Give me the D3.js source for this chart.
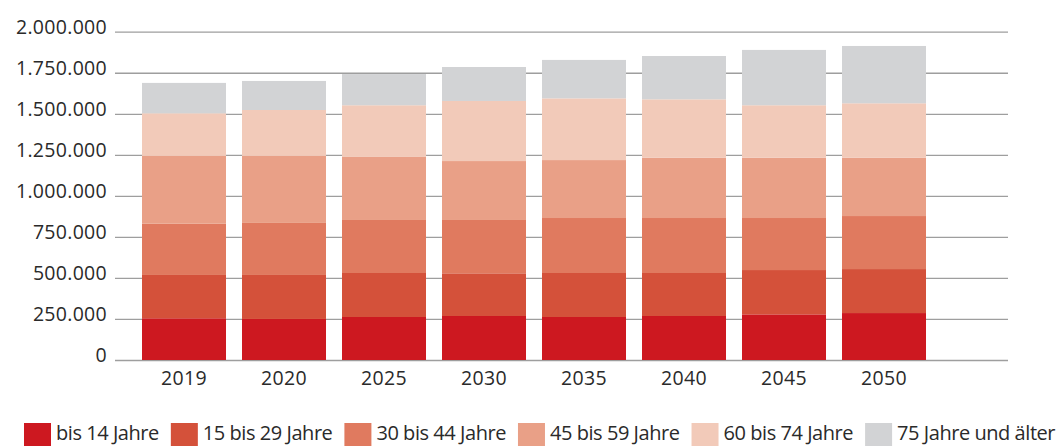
<!DOCTYPE html>
<html><head><meta charset="utf-8">
<script src="https://cdn.jsdelivr.net/npm/d3@7"></script>
<style>
html,body{margin:0;padding:0;background:#fff;}
svg{display:block;}
text{font-family:"Open Sans","Noto Sans",sans-serif;fill:#2a2a2a;}
</style></head>
<body><svg id="c" width="1063" height="446"></svg>
<script>
const years = ["2019","2020","2025","2030","2035","2040","2045","2050"];
const seriesNames = ["bis 14 Jahre","15 bis 29 Jahre","30 bis 44 Jahre","45 bis 59 Jahre","60 bis 74 Jahre","75 Jahre und älter"];
const bis14   = [254000, 250000, 262000, 268000, 262000, 268000, 278000, 286000];
const age15_29 = [264000, 268000, 268000, 260000, 268000, 262000, 270000, 268000];
const age30_44 = [312000, 317000, 323000, 325000, 335000, 335000, 317000, 323000];
const age45_59 = [413000, 408000, 384000, 359000, 353000, 368000, 368000, 356000];
const age60_74 = [260000, 280000, 315000, 366000, 376000, 355000, 319000, 331000];
const age75plus = [185000, 177000, 190000, 207000, 234000, 264000, 337000, 349000];
const yTicks = [0, 250000, 500000, 750000, 1000000, 1250000, 1500000, 1750000, 2000000];
const colors = ["#CD1820","#D4513A","#E07A5F","#E9A087","#F2CAB9","#D2D3D5"];

const seriesValues = [bis14, age15_29, age30_44, age45_59, age60_74, age75plus];
const rows = years.map((y,i)=>{
  const r = {year:y};
  seriesNames.forEach((s,j)=> r[s] = seriesValues[j][i]);
  return r;
});

const svg = d3.select("#c");
const x = d3.scaleBand().domain(years).range([134, 934]).paddingInner(0.16).paddingOuter(0.08);
const y = d3.scaleLinear().domain([0, 2000000]).range([360, 31.7]);
const fmt = v => v===0 ? "0" : d3.format(",")(v).replace(/,/g, ".");

// grid
const yAxis = d3.axisLeft(y).tickValues(yTicks).tickSize(-(1008-115)).tickFormat(fmt).tickPadding(8);
const ga = svg.append("g").attr("transform","translate(115,0)").call(yAxis);
ga.select(".domain").remove();
ga.selectAll(".tick line").attr("stroke","#9e9e9e").attr("stroke-width",1.3);
ga.selectAll(".tick text").attr("font-size","19.5px").attr("letter-spacing","0.3px")
  .attr("fill","#2a2a2a").attr("dy","0.1em").attr("font-family",'"Open Sans","Noto Sans",sans-serif');

// bars
const stack = d3.stack().keys(seriesNames)(rows);
svg.append("g").selectAll("g").data(stack).join("g")
  .attr("fill",(d,i)=>colors[i])
  .selectAll("rect").data(d=>d).join("rect")
  .attr("x", d=>x(d.data.year))
  .attr("width", x.bandwidth())
  .attr("y", d=>y(d[1]))
  .attr("height", d=>y(d[0])-y(d[1]));

// x axis labels
const xa = svg.append("g").attr("transform","translate(0,360)").call(d3.axisBottom(x).tickSize(0).tickPadding(11));
xa.select(".domain").remove();
xa.selectAll(".tick text").attr("font-size","19.5px").attr("letter-spacing","0.4px")
  .attr("fill","#2a2a2a").attr("font-family",'"Open Sans","Noto Sans",sans-serif');

// legend
const lg = svg.append("g");
let lx = 24;
seriesNames.forEach((s,i)=>{
  lg.append("rect").attr("x",lx).attr("y",423).attr("width",27).attr("height",23).attr("fill",colors[i]);
  const t = lg.append("text").attr("x",lx+32).attr("y",440).attr("font-size","20px")
    .attr("letter-spacing","-0.45px").text(s);
  lx = lx + 32 + t.node().getComputedTextLength() + 12;
});
</script></body></html>
